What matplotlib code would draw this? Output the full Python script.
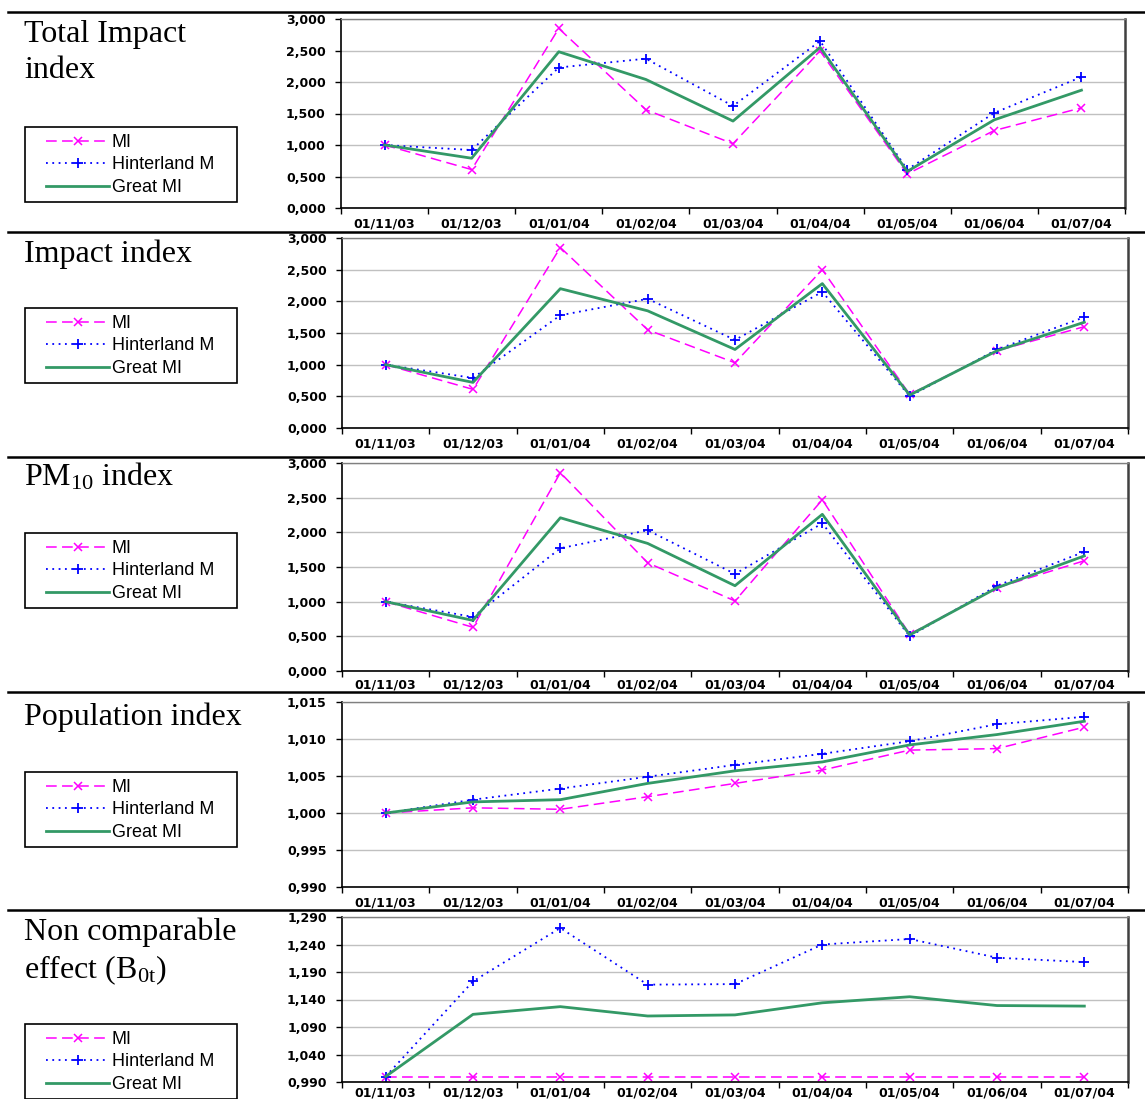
import matplotlib
matplotlib.use("Agg")
import matplotlib.pyplot as plt
from matplotlib.lines import Line2D
from matplotlib.patches import Rectangle
from matplotlib.ticker import FuncFormatter, FixedLocator

W, H = 1145, 1099

dates = ['01/11/03', '01/12/03', '01/01/04', '01/02/04', '01/03/04',
         '01/04/04', '01/05/04', '01/06/04', '01/07/04']
series_names = ['MI', 'Hinterland M', 'Great MI']

total_mi = [1.00, 0.61, 2.85, 1.56, 1.02, 2.49, 0.54, 1.23, 1.59]
total_hint = [1.00, 0.92, 2.23, 2.37, 1.62, 2.65, 0.61, 1.51, 2.08]
total_great = [1.00, 0.79, 2.48, 2.04, 1.38, 2.55, 0.58, 1.40, 1.87]

impact_mi = [1.00, 0.61, 2.85, 1.55, 1.03, 2.50, 0.53, 1.22, 1.60]
impact_hint = [1.00, 0.79, 1.78, 2.04, 1.39, 2.15, 0.50, 1.24, 1.75]
impact_great = [1.00, 0.72, 2.20, 1.85, 1.24, 2.28, 0.52, 1.22, 1.67]

pm_mi = [1.00, 0.63, 2.86, 1.56, 1.01, 2.47, 0.53, 1.20, 1.59]
pm_hint = [1.00, 0.78, 1.77, 2.03, 1.40, 2.13, 0.50, 1.23, 1.72]
pm_great = [1.00, 0.73, 2.21, 1.84, 1.23, 2.26, 0.52, 1.20, 1.66]

pop_mi = [1.0000, 1.0007, 1.0005, 1.0022, 1.0040, 1.0058, 1.0085, 1.0087, 1.0116]
pop_hint = [1.0000, 1.0018, 1.0033, 1.0049, 1.0065, 1.0080, 1.0097, 1.0120, 1.0130]
pop_great = [1.0000, 1.0015, 1.0018, 1.0040, 1.0057, 1.0069, 1.0092, 1.0106, 1.0124]

b0t_mi = [1.000, 1.000, 1.000, 1.000, 1.000, 1.000, 1.000, 1.000, 1.000]
b0t_hint = [1.000, 1.173, 1.270, 1.167, 1.168, 1.240, 1.250, 1.216, 1.208]
b0t_great = [1.000, 1.113, 1.127, 1.110, 1.112, 1.134, 1.145, 1.129, 1.128]

yticks_index = [0.0, 0.5, 1.0, 1.5, 2.0, 2.5, 3.0]
yticks_pop = [0.990, 0.995, 1.000, 1.005, 1.010, 1.015]
yticks_b0t = [0.990, 1.040, 1.090, 1.140, 1.190, 1.240, 1.290]

plt.rcParams['mathtext.default'] = 'regular'

# each panel: data, y ticks, pixel box of plot area, separator line, titles, legend top, label pad
panels = [
    (total_mi, total_hint, total_great, yticks_index, (341, 19, 1125, 208), 12,
     [("Total Impact", 42), ("index", 78)], 127, 7),
    (impact_mi, impact_hint, impact_great, yticks_index, (342, 238, 1128, 428), 232,
     [("Impact index", 262)], 308, 7),
    (pm_mi, pm_hint, pm_great, yticks_index, (342, 463, 1128, 671), 457,
     [("PM$_{10}$ index", 485)], 533, 5.5),
    (pop_mi, pop_hint, pop_great, yticks_pop, (342, 702, 1128, 887), 692,
     [("Population index", 725)], 772, 7),
    (b0t_mi, b0t_hint, b0t_great, yticks_b0t, (342, 917, 1128, 1082), 910,
     [("Non comparable", 940), ("effect (B$_{0t}$)", 978)], 1024, 3),
]

fig = plt.figure(figsize=(W / 100, H / 100), dpi=100)

tick_font = dict(family='DejaVu Sans', weight='bold', size=9)
fmt = FuncFormatter(lambda v, p: ('%.3f' % v).replace('.', ','))
x = list(range(len(dates)))

for mi, hint, great, yticks, box, sep, titles, leg_top, xpad in panels:
    l, t, r, b = box
    ax = fig.add_axes([l / W, 1 - b / H, (r - l) / W, (b - t) / H])
    ax.plot(x, mi, color='#FF00FF', lw=1.1, dashes=(7, 3.5), marker='x', ms=6, mew=1.1,
            label=series_names[0])
    ax.plot(x, hint, color='#0000FF', lw=1.3, dashes=(1, 2.5), marker='+', ms=7, mew=1.3,
            label=series_names[1])
    ax.plot(x, great, color='#339966', lw=2.0, label=series_names[2])
    ax.set_xlim(-0.5, len(dates) - 0.5)
    ax.set_ylim(yticks[0], yticks[-1])
    ax.yaxis.set_major_locator(FixedLocator(yticks))
    ax.yaxis.set_major_formatter(fmt)
    ax.grid(axis='y', color='#C0C0C0', lw=1.0)
    ax.set_axisbelow(True)
    ax.xaxis.set_major_locator(FixedLocator([i - 0.5 for i in range(len(dates) + 1)]))
    ax.xaxis.set_major_formatter(FuncFormatter(lambda v, p: ''))
    ax.set_xticks(x, dates, minor=True)
    ax.tick_params(axis='x', which='major', direction='out', length=4, width=1)
    ax.tick_params(axis='x', which='minor', length=0, pad=xpad)
    ax.tick_params(axis='y', direction='out', length=4, width=1, pad=7)
    for lab in ax.get_xticklabels(minor=True) + ax.get_yticklabels():
        lab.set_fontproperties(tick_font)
    ax.spines['left'].set_linewidth(1.2)
    ax.spines['bottom'].set_linewidth(1.2)
    ax.spines['top'].set_color('#808080')
    ax.spines['top'].set_linewidth(1.0)
    ax.spines['right'].set_color('#404040')
    ax.spines['right'].set_linewidth(1.8)

    fig.add_artist(Line2D([8 / W, 1], [1 - sep / H, 1 - sep / H], color='black', lw=1.8))
    for txt, base in titles:
        fig.text(24 / W, 1 - base / H, txt, family='Liberation Serif', size=23,
                 va='baseline', ha='left')

    fig.add_artist(Rectangle((25 / W, 1 - (leg_top + 75) / H), 212 / W, 75 / H,
                             transform=fig.transFigure, facecolor='white',
                             edgecolor='black', lw=1.2))
    handles, labels = ax.get_legend_handles_labels()
    fig.legend(handles, labels, loc='upper left',
               bbox_to_anchor=(46 / W, 1 - (leg_top + 7) / H),
               borderaxespad=0, borderpad=0, frameon=False,
               prop=dict(family='Liberation Sans', size=13), handlelength=3.5,
               handletextpad=0.15, labelspacing=0.3, numpoints=1)

fig.savefig('out.png', dpi=100)
